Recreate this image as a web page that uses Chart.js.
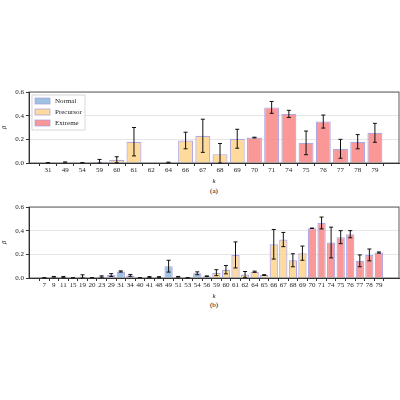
<!DOCTYPE html>
<html><head><meta charset="utf-8">
<script src="https://cdn.jsdelivr.net/npm/chart.js@4"></script>
<style>
body{margin:0;background:#fff;width:400px;height:400px;position:relative}
.c{position:absolute;left:0;width:400px;height:100px}
.cap{position:absolute;width:400px;text-align:center;font-size:7px;font-family:"Liberation Serif",serif;color:#000}
</style></head><body>
<div class="c" style="top:85px"><canvas id="a"></canvas></div>
<div class="cap" style="top:187px;left:14px">(a)</div>
<div class="c" style="top:200px"><canvas id="b"></canvas></div>
<div class="cap" style="top:301px;left:14px">(b)</div>
<script>
const catsA=['31','49','54','59','60','61','62','64','66','67','68','69','70','71','74','75','76','77','78','79'];
const valsA=[0.002,0.005,0.002,0.01,0.028,0.18,0,0.004,0.19,0.23,0.075,0.205,0.215,0.47,0.415,0.17,0.35,0.12,0.18,0.255];
const errsA=[0.002,0.004,0.001,0.02,0.025,0.12,0,0.003,0.07,0.14,0.09,0.08,0.003,0.05,0.03,0.1,0.055,0.08,0.06,0.08];
const typeA=['N','N','N','N','P','P','N','N','P','P','P','P','E','E','E','E','E','E','E','E'];
const catsB=['7','9','11','15','19','20','23','29','31','34','40','41','48','49','51','53','54','56','59','60','61','62','64','65','66','67','68','69','70','71','74','75','76','77','78','79'];
const valsB=[0.003,0.01,0.008,0.002,0.012,0.003,0.012,0.025,0.055,0.022,0.003,0.008,0.008,0.1,0.01,0.003,0.04,0.015,0.045,0.07,0.195,0.03,0.053,0.025,0.285,0.325,0.15,0.21,0.42,0.465,0.3,0.345,0.37,0.145,0.195,0.215];
const errsB=[0.001,0.003,0.005,0.001,0.015,0.001,0.006,0.012,0.005,0.008,0.001,0.004,0.003,0.05,0.003,0.001,0.012,0.003,0.025,0.035,0.11,0.025,0.005,0.003,0.125,0.06,0.055,0.06,0.002,0.05,0.13,0.055,0.03,0.05,0.05,0.005];
const typeB=['N','N','N','N','N','N','N','N','N','N','N','N','N','N','N','N','N','N','P','P','P','P','P','P','P','P','P','P','E','E','E','E','E','E','E','E'];
const yTicks=[0,0.2,0.4,0.6];
const groups=[['N','Normal','rgba(140,185,220,0.85)'],['P','Precursor','rgba(254,214,145,0.9)'],['E','Extreme','rgba(250,140,140,0.9)']];
const edge='rgba(170,160,225,0.9)';
const FF='"Liberation Serif", serif';
const font={family:FF,size:7};

function make(id,cats,vals,errs,types,lpad,rpad,legend){
  const n=cats.length;
  const datasets=groups.map(g=>({label:g[1],backgroundColor:g[2],borderColor:edge,borderWidth:1.2,
    barPercentage:0.87,categoryPercentage:1,grouped:false,
    data:vals.map((v,i)=>types[i]===g[0]?{x:i,y:v}:null).filter(d=>d)}));
  const plug={id:'p'+id,afterDatasetsDraw(c){
    const ctx=c.ctx,x=c.scales.x,y=c.scales.y,a=c.chartArea;
    ctx.save();ctx.strokeStyle='#111';ctx.lineWidth=1;
    vals.forEach((v,i)=>{if(errs[i]<=0)return;const px=x.getPixelForValue(i),t=y.getPixelForValue(v+errs[i]),b=y.getPixelForValue(Math.max(0,v-errs[i]));
      ctx.beginPath();ctx.moveTo(px,t);ctx.lineTo(px,b);ctx.moveTo(px-2,t);ctx.lineTo(px+2,t);ctx.moveTo(px-2,b);ctx.lineTo(px+2,b);ctx.stroke();});
    ctx.strokeStyle='#333';ctx.lineWidth=0.8;ctx.strokeRect(a.left,a.top,a.right-a.left,a.bottom-a.top);
    if(legend){
      const lx=a.left+3,ly=a.top+3;
      ctx.fillStyle='rgba(255,255,255,0.85)';ctx.strokeStyle='#ccc';ctx.lineWidth=0.8;
      ctx.fillRect(lx,ly,53,35);ctx.strokeRect(lx,ly,53,35);
      ctx.font='7px '+FF;ctx.textBaseline='middle';
      groups.forEach((g,k)=>{const yy=ly+6+k*11;ctx.fillStyle=g[2];ctx.fillRect(lx+3,yy-3,15,6);
        ctx.strokeStyle=edge;ctx.strokeRect(lx+3,yy-3,15,6);ctx.fillStyle='#222';ctx.fillText(g[1],lx+23,yy);});
    }
    ctx.restore();}};
  new Chart(document.getElementById(id),{type:'bar',data:{datasets},plugins:[plug],
    options:{responsive:true,maintainAspectRatio:false,animation:false,
      layout:{padding:{top:7,right:1,left:0,bottom:0}},
      plugins:{legend:{display:false},tooltip:{enabled:false}},
      scales:{
        x:{type:'linear',offset:false,min:-lpad,max:n-1+rpad,grid:{drawOnChartArea:false,tickLength:3,tickColor:'#333'},border:{color:'#333'},
          afterBuildTicks(s){s.ticks=cats.map((c,i)=>({value:i}));},
          afterFit(s){s.height=22;},
          ticks:{font,color:'#222',padding:0,maxRotation:0,autoSkip:false,callback:v=>cats[v]},
          title:{display:true,text:'k',font:{family:FF,size:7,style:'italic'},padding:0,color:'#222'}},
        y:{min:0,max:0.6,afterBuildTicks(s){s.ticks=yTicks.map(v=>({value:v}));},
          afterFit(s){s.width=29;},border:{color:'#333'},
          grid:{color:'#e6e6e6',drawTicks:true,tickLength:3,tickColor:'#333'},
          ticks:{font,color:'#222',padding:2,callback:v=>v.toFixed(1)},
          title:{display:true,text:'β',font:{family:FF,size:7,style:'italic'},padding:0,color:'#222'}}}}});
}
make('a',catsA,valsA,errsA,typeA,1.1,1.4,true);
make('b',catsB,valsB,errsB,typeB,1.6,2.1,false);
</script></body></html>
